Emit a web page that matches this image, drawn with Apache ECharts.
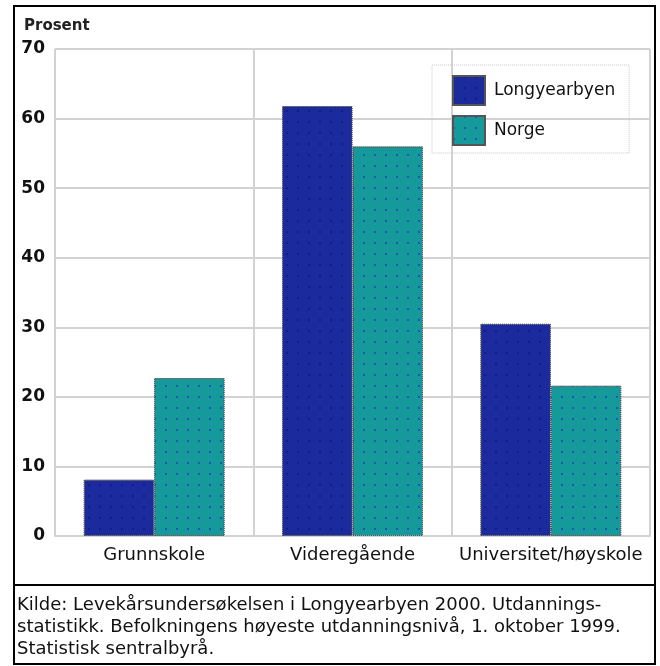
<!DOCTYPE html>
<html>
<head>
<meta charset="utf-8">
<script src="https://cdn.jsdelivr.net/npm/echarts@6/dist/echarts.min.js"></script>
<style>
  html, body { margin: 0; padding: 0; background: #fff; }
  #chart { width: 660px; height: 666px; }
</style>
</head>
<body>
<div id="chart"></div>
<script>
const categories = ['Grunnskole', 'Videregående', 'Universitet/høyskole']
const longyearbyen = [8.1, 61.8, 30.5]
const norge = [22.7, 56.0, 21.6]
const yTicks = { min: 0, max: 70, interval: 10 }
const yName = 'Prosent'
const sourceLines = [
  'Kilde: Levekårsundersøkelsen i Longyearbyen 2000. Utdannings-',
  'statistikk. Befolkningens høyeste utdanningsnivå, 1. oktober 1999.',
  'Statistisk sentralbyrå.'
]

const font = 'DejaVu Sans'
const gridColor = '#d2d2d2'

const chart = echarts.init(document.getElementById('chart'))

const barStyle = (color, dot) => ({
  color: color,
  borderColor: '#555',
  borderWidth: 1,
  borderType: 'dotted',
  decal: {
    symbol: 'rect',
    symbolSize: 1,
    dashArrayX: [2, 9],
    dashArrayY: [2, 9],
    color: dot
  }
})

const option = {
  animation: false,
  textStyle: { fontFamily: font },
  grid: { left: 55, right: 10, top: 49, bottom: 130 },
  legend: {
    left: 432,
    top: 65,
    orient: 'vertical',
    padding: [10, 14, 7, 20],
    itemWidth: 32,
    itemHeight: 29,
    itemGap: 9,
    borderColor: '#c8c8c8',
    borderWidth: 1,
    borderType: 'dotted',
    icon: 'rect',
    textStyle: { fontFamily: font, fontSize: 17, color: '#111', padding: [0, 0, 0, 4] },
    data: ['Longyearbyen', 'Norge']
  },
  xAxis: {
    type: 'category',
    data: categories,
    axisTick: { show: false },
    axisLine: { lineStyle: { color: gridColor, width: 2 } },
    axisLabel: { interval: 0, margin: 10, fontSize: 18, color: '#111', fontFamily: font },
    splitLine: { show: true, lineStyle: { color: gridColor, width: 2 } }
  },
  yAxis: {
    type: 'value',
    min: yTicks.min,
    max: yTicks.max,
    interval: yTicks.interval,
    axisLine: { show: false },
    axisTick: { show: false },
    axisLabel: { margin: 10, fontSize: 17, fontWeight: 'bold', color: '#111', fontFamily: font },
    splitLine: { lineStyle: { color: gridColor, width: 2 } }
  },
  series: [
    {
      name: 'Longyearbyen',
      type: 'bar',
      data: longyearbyen,
      barGap: '0%',
      barCategoryGap: '29%',
      itemStyle: barStyle('#1b2a9c', 'rgba(10,20,110,0.55)')
    },
    {
      name: 'Norge',
      type: 'bar',
      data: norge,
      itemStyle: barStyle('#16999a', 'rgba(30,60,190,0.7)')
    }
  ],
  graphic: [
    {
      type: 'rect',
      shape: { x: 14, y: 6, width: 641, height: 658 },
      style: { fill: 'none', stroke: '#000', lineWidth: 2 },
      silent: true
    },
    {
      type: 'line',
      shape: { x1: 14, y1: 585, x2: 655, y2: 585 },
      style: { stroke: '#000', lineWidth: 2 },
      silent: true
    },
    {
      type: 'text',
      left: 24,
      top: 19,
      style: { text: yName, fontFamily: font, fontSize: 15, fontWeight: 'bold', fill: '#222' }
    },
    ...sourceLines.map((line, i) => ({
      type: 'text',
      left: 17,
      top: 596 + i * 22,
      style: { text: line, fontFamily: font, fontSize: 18, fill: '#111' }
    }))
  ]
}

chart.setOption(option)
</script>
</body>
</html>
